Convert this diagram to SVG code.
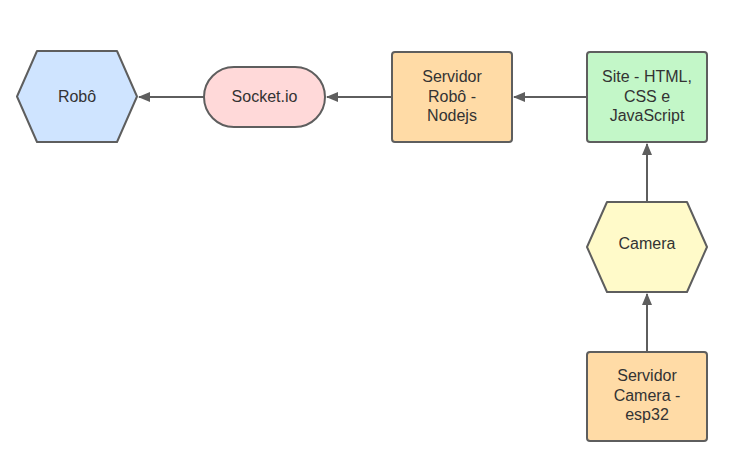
<svg xmlns="http://www.w3.org/2000/svg" width="739" height="464" viewBox="0 0 739 464">
<defs>
<style>
.n{stroke:#5e5e5e;stroke-width:2;stroke-linejoin:round}
.t{font-family:"Liberation Sans",Arial,sans-serif;font-size:16px;fill:#333333;text-anchor:middle}
.c{stroke:#5e5e5e;stroke-width:2;fill:none}
</style>
<marker id="ah" markerWidth="12" markerHeight="10" refX="11" refY="5" orient="auto" markerUnits="userSpaceOnUse">
<path d="M0,0 L12,5 L0,10 Z" fill="#5e5e5e"/>
</marker>
</defs>
<rect width="739" height="464" fill="#ffffff"/>
<g id="connectors">
<line class="c" x1="204" y1="97" x2="139" y2="97" marker-end="url(#ah)"/>
<line class="c" x1="392" y1="97" x2="327" y2="97" marker-end="url(#ah)"/>
<line class="c" x1="587" y1="97" x2="514" y2="97" marker-end="url(#ah)"/>
<line class="c" x1="647" y1="202" x2="647" y2="144" marker-end="url(#ah)"/>
<line class="c" x1="647" y1="352" x2="647" y2="294" marker-end="url(#ah)"/>
</g>
<g id="robo">
<polygon class="n" fill="#cfe4ff" points="17,96.5 37,51 117,51 137,96.5 117,142 37,142"/>
<text class="t" x="77" y="102">Robô</text>
</g>
<g id="socketio">
<rect class="n" fill="#ffd9d9" x="204" y="67" width="121" height="60" rx="30" ry="30"/>
<text class="t" x="264.5" y="102">Socket.io</text>
</g>
<g id="servidor-robo">
<rect class="n" fill="#ffdba6" x="392" y="52" width="120" height="90" rx="3" ry="3"/>
<text class="t" x="452" y="82">Servidor</text>
<text class="t" x="452" y="102">Robô -</text>
<text class="t" x="452" y="121">Nodejs</text>
</g>
<g id="site">
<rect class="n" fill="#c3f7c8" x="587" y="52" width="120" height="90" rx="3" ry="3"/>
<text class="t" x="647" y="82">Site - HTML,</text>
<text class="t" x="647" y="102">CSS e</text>
<text class="t" x="647" y="121">JavaScript</text>
</g>
<g id="camera">
<polygon class="n" fill="#fffac9" points="587,247 607,202 687,202 707,247 687,292 607,292"/>
<text class="t" x="647" y="249">Camera</text>
</g>
<g id="servidor-camera">
<rect class="n" fill="#ffdba6" x="587" y="352" width="120" height="89" rx="3" ry="3"/>
<text class="t" x="647" y="381">Servidor</text>
<text class="t" x="647" y="401">Camera -</text>
<text class="t" x="647" y="420">esp32</text>
</g>
</svg>
